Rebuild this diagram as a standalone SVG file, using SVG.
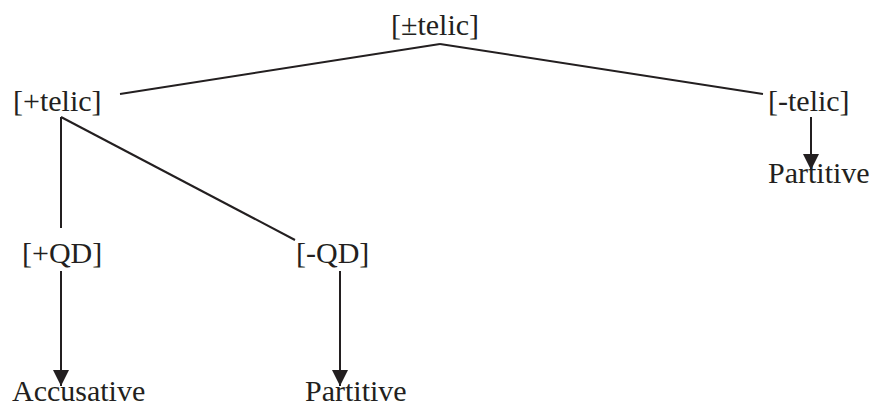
<svg xmlns="http://www.w3.org/2000/svg" width="877" height="408" viewBox="0 0 877 408">
  <style>
    text { font-family: "Liberation Serif", "Times New Roman", serif; font-size: 30px; fill: #231f20; }
    .edge { stroke: #231f20; stroke-width: 2; fill: none; }
  </style>
  <defs>
    <marker id="arrow" markerWidth="8" markerHeight="8" refX="8" refY="4" orient="auto" markerUnits="strokeWidth">
      <path d="M0,0 L8,4 L0,8 Z" fill="#231f20"/>
    </marker>
  </defs>
  <rect width="877" height="408" fill="#ffffff"/>

  <!-- connectors -->
  <g id="connectors">
    <line class="edge" x1="440" y1="44" x2="120" y2="94"/>
    <line class="edge" x1="440" y1="44" x2="763" y2="94"/>
    <line class="edge" x1="61" y1="117" x2="61" y2="228"/>
    <line class="edge" x1="61" y1="117" x2="295" y2="240"/>
    <line class="edge" x1="61" y1="271" x2="61" y2="386" marker-end="url(#arrow)"/>
    <line class="edge" x1="340" y1="271" x2="340" y2="386" marker-end="url(#arrow)"/>
    <line class="edge" x1="811" y1="117" x2="811" y2="170" marker-end="url(#arrow)"/>
  </g>

  <!-- nodes -->
  <g id="node-telic-root"><text x="391" y="35">[±telic]</text></g>
  <g id="node-plus-telic"><text x="13" y="111">[+telic]</text></g>
  <g id="node-minus-telic"><text x="768" y="111">[-telic]</text></g>
  <g id="node-partitive-telic"><text x="768" y="183">Partitive</text></g>
  <g id="node-plus-qd"><text x="22" y="263">[+QD]</text></g>
  <g id="node-minus-qd"><text x="296" y="263">[-QD]</text></g>
  <g id="node-accusative"><text x="12" y="401">Accusative</text></g>
  <g id="node-partitive-qd"><text x="305" y="401">Partitive</text></g>
</svg>
